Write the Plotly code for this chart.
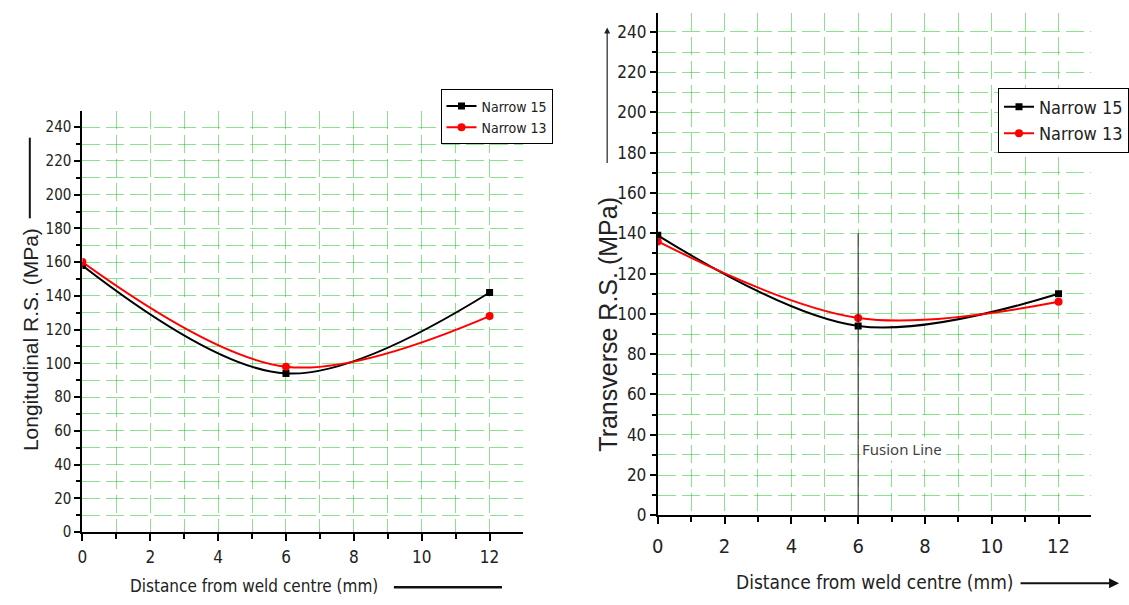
import plotly.graph_objects as go

# ---- data ----
distance = [0, 6, 12]
long_narrow15 = [158, 94, 142]
long_narrow13 = [160, 98, 128]
trans_narrow15 = [139, 94, 110]
trans_narrow13 = [136, 98, 106]
series_names = ["Narrow 15", "Narrow 13"]
x_ticks = [0, 2, 4, 6, 8, 10, 12]
y_ticks = list(range(0, 241, 20))
fusion_x = 6
fusion_top = 140

W, H = 1129, 605
NARROW = "DejaVu Sans Condensed, Liberation Sans Narrow, Arial Narrow, sans-serif"
SANS = "Liberation Sans, Arial, sans-serif"

def px(x):
    return x / W

def py(y):
    return 1 - y / H

fig = go.Figure()

black = "#000000"
red = "#ff0000"

fig.add_trace(go.Scatter(x=distance, y=long_narrow15, name=series_names[0], mode="lines+markers",
                         line=dict(color=black, width=2, shape="spline"),
                         marker=dict(symbol="square", size=7, color=black),
                         xaxis="x", yaxis="y", legend="legend"))
fig.add_trace(go.Scatter(x=distance, y=long_narrow13, name=series_names[1], mode="lines+markers",
                         line=dict(color=red, width=2, shape="spline"),
                         marker=dict(symbol="circle", size=8, color=red),
                         xaxis="x", yaxis="y", legend="legend"))
fig.add_trace(go.Scatter(x=distance, y=trans_narrow15, name=series_names[0], mode="lines+markers",
                         line=dict(color=black, width=2, shape="spline"),
                         marker=dict(symbol="square", size=7, color=black),
                         xaxis="x2", yaxis="y2", legend="legend2"))
fig.add_trace(go.Scatter(x=distance, y=trans_narrow13, name=series_names[1], mode="lines+markers",
                         line=dict(color=red, width=2, shape="spline"),
                         marker=dict(symbol="circle", size=8, color=red),
                         xaxis="x2", yaxis="y2", legend="legend2"))

grid_color = "rgba(0,190,0,0.45)"

def xaxis_cfg(domain, anchor, fsize, standoff):
    return dict(domain=domain, anchor=anchor, range=[0, 12.98],
                tickvals=x_ticks, ticks="outside", ticklen=7, tickwidth=2, tickcolor=black,
                ticklabelstandoff=standoff,
                showline=True, linecolor=black, linewidth=2, showgrid=False, zeroline=False,
                tickfont=dict(family=NARROW, size=fsize, color="#222"),
                minor=dict(dtick=1, ticks="outside", ticklen=5, tickwidth=2, tickcolor=black,
                           showgrid=True, gridcolor=grid_color, griddash="18px,6px", gridwidth=1))

def yaxis_cfg(domain, anchor, fsize):
    return dict(domain=domain, anchor=anchor, range=[0, 249.5],
                tickvals=y_ticks, ticks="outside", ticklen=6, tickwidth=2, tickcolor=black,
                showline=True, linecolor=black, linewidth=2, showgrid=False, zeroline=False,
                tickfont=dict(family=NARROW, size=fsize, color="#222"),
                minor=dict(dtick=10, ticks="outside", ticklen=4, tickwidth=2, tickcolor=black,
                           showgrid=True, gridcolor=grid_color, griddash="18px,6px", gridwidth=1))

fig.update_layout(
    width=W, height=H,
    margin=dict(l=0, r=0, t=0, b=0),
    paper_bgcolor="white", plot_bgcolor="white",
    xaxis=xaxis_cfg([px(77), px(521)], "y", 17, 2),
    yaxis=yaxis_cfg([py(541), py(113)], "x", 15),
    xaxis2=xaxis_cfg([px(657), px(1094)], "y2", 20, 5),
    yaxis2=yaxis_cfg([py(524), py(13)], "x2", 17),
    legend=dict(x=px(438), y=py(91), xanchor="left", yanchor="top",
                bordercolor=black, borderwidth=1, bgcolor="white",
                font=dict(family=NARROW, size=14, color="#222"), itemwidth=30,
                tracegroupgap=0),
    legend2=dict(x=px(1000), y=py(89), xanchor="left", yanchor="top",
                 bordercolor=black, borderwidth=1, bgcolor="white",
                 font=dict(family=NARROW, size=18, color="#222"), itemwidth=30,
                 tracegroupgap=0),
    showlegend=True,
)

annotations = [
    dict(text="Longitudinal R.S. (MPa)", x=px(24), y=py(345), xref="paper", yref="paper",
         xanchor="center", yanchor="middle",
         textangle=-90, showarrow=False, font=dict(family=SANS, size=21, color="#222")),
    dict(text="Transverse R.S. (MPa)", x=px(606), y=py(330), xref="paper", yref="paper",
         xanchor="center", yanchor="middle",
         textangle=-90, showarrow=False, font=dict(family=SANS, size=25, color="#222")),
    dict(text="Distance from weld centre (mm)", x=px(250), y=py(596), xref="paper", yref="paper",
         xanchor="center", yanchor="middle",
         showarrow=False, font=dict(family=NARROW, size=17, color="#222")),
    dict(text="Distance from weld centre (mm)", x=px(876), y=py(592), xref="paper", yref="paper",
         xanchor="center", yanchor="middle",
         showarrow=False, font=dict(family=NARROW, size=19, color="#222")),
    dict(text="Fusion Line", x=fusion_x, y=33, xref="x2", yref="y2", xanchor="left", xshift=2,
         showarrow=False, bgcolor="white", font=dict(family="Noto Sans, sans-serif", size=15, color="#444")),
    # arrows
    dict(text="", x=px(606), y=py(28), xref="paper", yref="paper", ax=0, ay=137,
         axref="pixel", ayref="pixel", showarrow=True, arrowhead=2, arrowsize=1, arrowwidth=1.2,
         arrowcolor="#222"),
    dict(text="", x=px(1122), y=py(593), xref="paper", yref="paper", ax=-100, ay=0,
         axref="pixel", ayref="pixel", showarrow=True, arrowhead=2, arrowsize=1, arrowwidth=2,
         arrowcolor="#111"),
]
fig.update_layout(annotations=annotations)

shapes = [
    dict(type="line", xref="paper", yref="paper", x0=px(24), x1=px(24), y0=py(222), y1=py(140),
         line=dict(color="#111", width=2)),
    dict(type="line", xref="paper", yref="paper", x0=px(391), x1=px(500), y0=py(597), y1=py(597),
         line=dict(color="#111", width=2.5)),
    dict(type="line", xref="x2", yref="y2", x0=fusion_x, x1=fusion_x, y0=0, y1=fusion_top,
         line=dict(color="#222", width=1)),
]
fig.update_layout(shapes=shapes)

fig.write_html("out.html")
